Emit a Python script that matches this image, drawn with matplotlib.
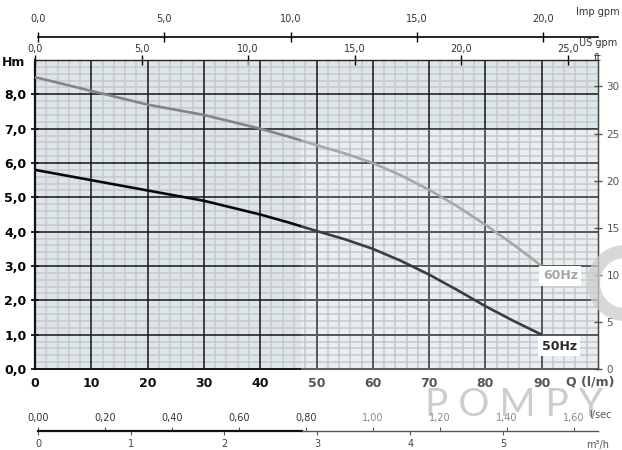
import matplotlib
matplotlib.use('Agg')
import matplotlib.pyplot as plt
from matplotlib.patches import Rectangle, Wedge
from matplotlib.ticker import FuncFormatter
from matplotlib.transforms import IdentityTransform
from matplotlib import font_manager

# ---------------- data ----------------
flow_lpm = [0, 5, 10, 15, 20, 25, 30, 35, 40, 45, 50, 55, 60, 65, 70, 75, 80, 85, 90]
head_60hz = [8.5, 8.3, 8.1, 7.9, 7.7, 7.55, 7.4, 7.2, 7.0, 6.77, 6.52, 6.28, 6.0, 5.64, 5.22, 4.74, 4.2, 3.62, 3.0]
head_50hz = [5.8, 5.65, 5.5, 5.35, 5.2, 5.05, 4.9, 4.7, 4.5, 4.27, 4.02, 3.78, 3.5, 3.15, 2.75, 2.3, 1.83, 1.4, 1.0]

q_ticks = [0, 10, 20, 30, 40, 50, 60, 70, 80, 90]
h_ticks = [0, 1, 2, 3, 4, 5, 6, 7, 8]
ft_ticks = [0, 5, 10, 15, 20, 25, 30]
usgpm_ticks = [0, 5, 10, 15, 20, 25]
impgpm_ticks = [0, 5, 10, 15, 20]
lps_ticks = [0.0, 0.2, 0.4, 0.6, 0.8, 1.0, 1.2, 1.4, 1.6]
m3h_ticks = [0, 1, 2, 3, 4, 5]

Q_MAX = 100.0
H_MAX = 9.0
SPLIT_Q = 47.3      # left (darker) / right (lighter) part of the sheet
SPLIT_H = 7.0
FT_PER_M = 3.645    # ft scale as drawn on the sheet
L_PER_USGAL = 3.785
L_PER_IMPGAL = 4.546

W, H = 622, 450
avail = {f.name for f in font_manager.fontManager.ttflist}
FAM = ['Liberation Sans Narrow', 'DejaVu Sans'] if 'Liberation Sans Narrow' in avail else ['DejaVu Sans']
plt.rcParams['font.family'] = FAM

fig = plt.figure(figsize=(W / 100, H / 100), dpi=100)
fig.patch.set_facecolor('white')


def px(x0, y0, x1, y1):
    return [x0 / W, 1 - y1 / H, (x1 - x0) / W, (y1 - y0) / H]


comma1 = FuncFormatter(lambda v, p: f"{v:.1f}".replace('.', ','))
comma2 = FuncFormatter(lambda v, p: f"{v:.2f}".replace('.', ','))
intfmt = FuncFormatter(lambda v, p: f"{v:.0f}")

# watermark (behind everything)
fig.text(514 / W, 1 - 405 / H, 'P O M P Y', fontsize=28, ha='center', va='center', color='#cdcdcd',
         family=['Lato', 'DejaVu Sans'], zorder=-1)

ax = fig.add_axes(px(35, 60, 598, 369))
ax.set_xlim(0, Q_MAX)
ax.set_ylim(0, H_MAX)
ax.set_facecolor('#dce6ea')

light = Rectangle((SPLIT_Q, 0), Q_MAX - SPLIT_Q, SPLIT_H, facecolor='#e9eff1', edgecolor='none', zorder=0.5)
ax.add_patch(light)
clip_light = Rectangle((SPLIT_Q, -1), Q_MAX, SPLIT_H + 1, transform=ax.transData)
clip_dark_v = Rectangle((-1, -1), SPLIT_Q + 1, H_MAX + 2, transform=ax.transData)

# minor grid
for i in range(0, 51):
    q = i * 2
    if q % 10 != 0:
        ax.axvline(q, color='#c6c8ca', lw=1.1, zorder=1)
for i in range(0, 46):
    h = i * 0.2
    if abs(h - round(h)) > 1e-6:
        ax.axhline(h, color='#c6c8ca', lw=1.1, zorder=1)

# major grid (dark, with lighter overlay on the right sheet)
for q in q_ticks[1:]:
    ax.axvline(q, color='#151515', lw=1.1, zorder=2)
    l2 = ax.axvline(q, color='#5e5e5e', lw=1.2, zorder=2.1)
    l2.set_clip_path(clip_light)
for h in h_ticks:
    ax.axhline(h, color='#151515', lw=1.4 if h == 0 else 1.1, zorder=2, clip_on=(h != 0))
    l2 = ax.axhline(h, color='#5e5e5e', lw=1.5 if h == 0 else 1.2, zorder=2.1)
    l2.set_clip_path(clip_light)

# curves
for heads, c_left, c_right in [(head_60hz, '#858585', '#a8a8a8'), (head_50hz, '#0a0a0a', '#3c3c3c')]:
    a, = ax.plot(flow_lpm, heads, color=c_left, lw=1.9, zorder=4, solid_capstyle='butt')
    a.set_clip_path(clip_dark_v)
    b, = ax.plot(flow_lpm, heads, color=c_right, lw=1.9, zorder=4, solid_capstyle='butt')
    b.set_clip_path(Rectangle((SPLIT_Q, -1), Q_MAX, H_MAX + 2, transform=ax.transData))

ax.text(93.3, 2.72, '60Hz', color='#a6a6a6', fontsize=9, fontweight='bold', ha='center', va='center',
        zorder=6, bbox=dict(facecolor='white', edgecolor='none', pad=2.5))
ax.text(93.1, 0.66, '50Hz', color='#2a2a2a', fontsize=9, fontweight='bold', ha='center', va='center',
        zorder=6, bbox=dict(facecolor='white', edgecolor='none', pad=2.5))

ax.spines['bottom'].set_visible(False)
ax.spines['left'].set_linewidth(1.6)
ax.spines['left'].set_color('#111111')
ax.spines['top'].set_linewidth(1.0)
ax.spines['top'].set_color('#222222')
ax.spines['right'].set_linewidth(1.0)
ax.spines['right'].set_color('#444444')

ax.set_xticks(q_ticks)
ax.set_yticks(h_ticks)
ax.yaxis.set_major_formatter(comma1)
ax.xaxis.set_major_formatter(intfmt)
ax.tick_params(axis='y', direction='inout', length=6, width=1.2, labelsize=9, pad=3)
ax.tick_params(axis='x', length=0, labelsize=9, pad=6)
for lab in ax.get_yticklabels():
    lab.set_fontweight('bold')
for lab, q in zip(ax.get_xticklabels(), q_ticks):
    lab.set_fontweight('bold')
    lab.set_color('#111111' if q < SPLIT_Q else '#555555')

# right ft axis
ax2 = ax.twinx()
ax2.set_ylim(0, H_MAX * FT_PER_M)
ax2.set_yticks(ft_ticks)
ax2.yaxis.set_major_formatter(intfmt)
ax2.tick_params(axis='y', direction='inout', length=6, width=1.0, color='#555555', labelsize=7.5,
                labelcolor='#555555', pad=3)
for s in ['left', 'top', 'bottom']:
    ax2.spines[s].set_visible(False)
ax2.spines['right'].set_color('#444444')

# top US gpm axis
sec = ax.secondary_xaxis('top', functions=(lambda q: q / L_PER_USGAL, lambda g: g * L_PER_USGAL))
sec.set_xticks(usgpm_ticks)
sec.xaxis.set_major_formatter(comma1)
sec.tick_params(direction='inout', length=7, width=1.0, labelsize=7, labelcolor='#333333', pad=1)
sec.spines['top'].set_visible(False)

# Imp gpm axis line
axi = fig.add_axes(px(38, 37, 598, 37.1))
axi.set_xlim(0, 560 / 25.25)
axi.set_ylim(0, 1)
axi.patch.set_visible(False)
for s in ['left', 'right', 'bottom']:
    axi.spines[s].set_visible(False)
axi.spines['top'].set_linewidth(1.2)
axi.xaxis.tick_top()
axi.set_xticks(impgpm_ticks)
axi.xaxis.set_major_formatter(comma1)
axi.tick_params(axis='x', direction='inout', length=7, width=1.0, labelsize=7, labelcolor='#333333', pad=6)
axi.set_yticks([])

# bottom l/sec - m3/h axis
axb = fig.add_axes(px(38, 431, 598, 431.1))
lps_max = 560 / 335.0
axb.set_xlim(0, lps_max)
axb.set_ylim(0, 1)
axb.patch.set_visible(False)
for s in axb.spines.values():
    s.set_visible(False)
split_frac = (SPLIT_Q / 60.0) / lps_max
axb.axhline(0, xmin=0, xmax=split_frac, color='#111111', lw=1.6, clip_on=False)
axb.axhline(0, xmin=split_frac, xmax=1, color='#555555', lw=1.0, clip_on=False)
axb.xaxis.tick_top()
axb.set_xticks(lps_ticks)
axb.xaxis.set_major_formatter(comma2)
axb.tick_params(axis='x', direction='out', length=3, width=0.8, labelsize=7, pad=3, color='#555555')
for lab, v in zip(axb.get_xticklabels(), lps_ticks):
    lab.set_color('#333333' if v * 60 < SPLIT_Q + 1 else '#8a8a8a')
axb.set_yticks([])
secb = axb.secondary_xaxis('bottom', functions=(lambda x: x * 3.6, lambda x: x / 3.6))
secb.set_xticks(m3h_ticks)
secb.xaxis.set_major_formatter(intfmt)
secb.tick_params(direction='out', length=3, width=0.8, labelsize=7, labelcolor='#444444', color='#555555', pad=3)
secb.spines['bottom'].set_visible(False)

# axis titles
fig.text(14 / W, 1 - 62 / H, 'Hm', fontsize=9, fontweight='bold', ha='center', va='center', color='#111111')
fig.text(590 / W, 1 - 382 / H, 'Q (l/m)', fontsize=9, fontweight='bold', ha='center', va='center', color='#555555')
fig.text(598 / W, 1 - 58 / H, 'ft', fontsize=7.5, ha='center', va='center', color='#333333')
fig.text(598 / W, 1 - 43 / H, 'US gpm', fontsize=7, ha='center', va='center', color='#333333')
fig.text(598 / W, 1 - 12 / H, 'Imp gpm', fontsize=7, ha='center', va='center', color='#333333')
fig.text(600 / W, 1 - 415 / H, 'l/sec', fontsize=7, ha='center', va='center', color='#555555')
fig.text(598 / W, 1 - 445 / H, 'm³/h', fontsize=7, ha='center', va='center', color='#555555')

ring = Wedge((625, H - 283), 38, 62, 298, width=13, facecolor='#cccccc', edgecolor='none',
             transform=IdentityTransform(), alpha=0.75, zorder=5)
fig.add_artist(ring)

fig.savefig('out.png', dpi=100, facecolor='white')
